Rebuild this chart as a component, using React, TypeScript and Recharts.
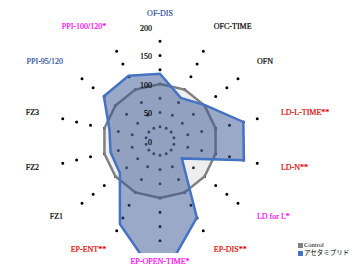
import { RadarChart, Radar, PolarGrid, PolarAngleAxis, PolarRadiusAxis, Legend } from 'recharts';

const categories = [
  'OF-DIS',
  'OFC-TIME',
  'OFN',
  'LD-L-TIME**',
  'LD-N**',
  'LD for L*',
  'EP-DIS**',
  'EP-OPEN-TIME*',
  'EP-ENT**',
  'FZ1',
  'FZ2',
  'FZ3',
  'PPI-95/120',
  'PPI-100/120*',
];
const controlValues = [100, 100, 100, 100, 100, 100, 100, 100, 100, 100, 100, 100, 100, 100];
const acetamipridValues = [118, 84, 101, 150, 151, 49, 149, 248, 162, 90, 89, 91, 126, 127];
const radiusTicks = [0, 50, 100, 150, 200];
const seriesNames = ['Control', 'アセタミプリド'];

const data = categories.map((name, i) => ({
  name,
  control: controlValues[i],
  acetamiprid: acetamipridValues[i],
}));

const BLUE = '#4472C4';
const GRAY = '#808080';
const CX = 160;
const CY = 141;
const R = 114;
const FONT = '"Liberation Serif", "Times New Roman", serif';

const labelColor: Record<string, string> = {
  'OF-DIS': '#2f4f9f',
  'PPI-95/120': '#2f4f9f',
  'PPI-100/120*': '#ff00ff',
  'LD for L*': '#ff00ff',
  'EP-OPEN-TIME*': '#ff00ff',
  'LD-L-TIME**': '#e00000',
  'LD-N**': '#e00000',
  'EP-DIS**': '#e00000',
  'EP-ENT**': '#e00000',
};

// grid dots every 25 units, none at the centre
const step = R / 8;
const dotPattern = [...Array(8).fill(`0 ${step}`), '0 100'].join(' ');
const dotOffset = 8 * step + 100 - step;

function AngleTick(props: any) {
  const { payload } = props;
  const a = (-payload.coordinate * Math.PI) / 180;
  const r = 124;
  const cos = Math.cos(a);
  const sin = Math.sin(a);
  const x = CX + r * cos;
  const y = CY + r * sin - 3.5 * Math.abs(sin);
  const anchor = Math.abs(cos) < 0.1 ? 'middle' : cos > 0 ? 'start' : 'end';
  return (
    <text
      x={x}
      y={y}
      textAnchor={anchor}
      dominantBaseline="central"
      fontSize={8}
      fontFamily={FONT}
      fill={labelColor[payload.value] || '#000'}
      stroke={labelColor[payload.value] || '#000'}
      strokeWidth={0.2}
    >
      {payload.value}
    </text>
  );
}

function RadiusTick(props: any) {
  const { x, y, payload } = props;
  return (
    <text
      x={x - 8}
      y={y + 1}
      textAnchor="end"
      dominantBaseline="central"
      fontSize={8}
      fontFamily={FONT}
      fill="#000"
      stroke="#000"
      strokeWidth={0.2}
    >
      {payload.value}
    </text>
  );
}

function ClippedShape(props: any) {
  const pts = (props.points || []).map((p: any) => `${p.x},${p.y}`).join(' ');
  return (
    <g>
      <defs>
        <clipPath id="plotClip">
          <rect x={0} y={0} width={354} height={253} />
        </clipPath>
      </defs>
      <polygon
        points={pts}
        fill="#385493"
        fillOpacity={0.5}
        stroke={BLUE}
        strokeWidth={2.5}
        strokeLinejoin="miter"
        clipPath="url(#plotClip)"
      />
    </g>
  );
}

function LegendBox() {
  const colors = [GRAY, BLUE];
  return (
    <div style={{ fontFamily: '"Liberation Serif", "Noto Sans CJK JP", serif', fontSize: 6.5, lineHeight: '8px', color: '#000' }}>
      {seriesNames.map((n, i) => (
        <div key={n} style={{ display: 'flex', alignItems: 'center', whiteSpace: 'nowrap' }}>
          <span style={{ display: 'inline-block', width: 5, height: 5, background: colors[i], marginRight: 1 }} />
          <span>{n}</span>
        </div>
      ))}
    </div>
  );
}

export default function App() {
  return (
    <div style={{ position: 'absolute', left: 0, top: 0, width: 354, height: 271, background: '#fff' }}>
      <RadarChart
        width={354}
        height={271}
        data={data}
        cx={CX}
        cy={CY}
        outerRadius={R}
        startAngle={90}
        endAngle={-270}
        margin={{ top: 0, right: 0, bottom: 0, left: 0 }}
      >
        <PolarGrid
          gridType="circle"
          polarRadius={[]}
          stroke="#000"
          strokeWidth={3}
          strokeLinecap="round"
          strokeDasharray={dotPattern}
          strokeDashoffset={dotOffset}
        />
        <PolarAngleAxis dataKey="name" tick={<AngleTick />} tickLine={false} axisLine={false} />
        <PolarRadiusAxis
          angle={90}
          domain={[0, 200]}
          ticks={radiusTicks}
          allowDataOverflow
          axisLine={false}
          tickLine={false}
          tick={<RadiusTick />}
        />
        <Radar
          name={seriesNames[0]}
          dataKey="control"
          stroke={GRAY}
          strokeWidth={2.5}
          fill="#c8c8c8"
          fillOpacity={0.3}
          isAnimationActive={false}
        />
        <Radar
          name={seriesNames[1]}
          dataKey="acetamiprid"
          stroke={BLUE}
          fill="#385493"
          fillOpacity={0.5}
          shape={ClippedShape}
          isAnimationActive={false}
        />
        <Legend content={<LegendBox />} wrapperStyle={{ position: 'absolute', left: 298, top: 241, width: 56 }} />
      </RadarChart>
    </div>
  );
}
